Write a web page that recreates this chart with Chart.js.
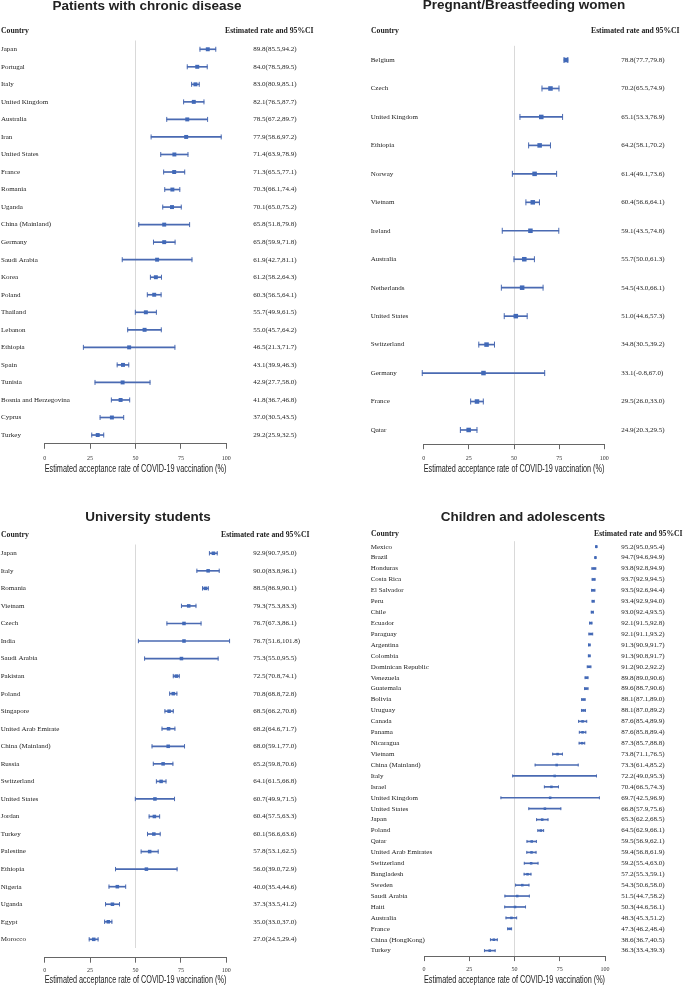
<!DOCTYPE html>
<html>
<head>
<meta charset="utf-8">
<script src="https://cdn.jsdelivr.net/npm/chart.js@4.4.1/dist/chart.umd.min.js"></script>
<style>
  body { margin: 0; background: #fff; }
  #page { position: relative; width: 685px; height: 986px; overflow: hidden; color: #222; }
  canvas { position: absolute; }
  .title { position: absolute; font: bold 13.5px 'Liberation Sans', Arial, sans-serif; line-height: 14px; white-space: nowrap; transform: translateX(-50%); color: #222; }
  .head { position: absolute; font: bold 7.7px 'Liberation Serif', 'Times New Roman', serif; line-height: 10px; white-space: nowrap; color: #222; }
</style>
</head>
<body>
<div id="page">
  <canvas id="c1" width="340" height="480" style="left:0;top:0"></canvas>
  <canvas id="c2" width="345" height="480" style="left:340px;top:0"></canvas>
  <canvas id="c3" width="340" height="496" style="left:0;top:490px"></canvas>
  <canvas id="c4" width="345" height="496" style="left:340px;top:490px"></canvas>

  <div class="title" style="left:147px;top:-1px">Patients with chronic disease</div>
  <div class="title" style="left:524px;top:-2px">Pregnant/Breastfeeding women</div>
  <div class="title" style="left:148px;top:510px">University students</div>
  <div class="title" style="left:523px;top:510px">Children and adolescents</div>

  <div class="head" style="left:1px;top:26px">Country</div>
  <div class="head" style="left:225px;top:26px">Estimated rate and 95%CI</div>
  <div class="head" style="left:371px;top:26px">Country</div>
  <div class="head" style="left:591px;top:26px">Estimated rate and 95%CI</div>
  <div class="head" style="left:1px;top:530px">Country</div>
  <div class="head" style="left:221px;top:530px">Estimated rate and 95%CI</div>
  <div class="head" style="left:371px;top:529px">Country</div>
  <div class="head" style="left:594px;top:529px">Estimated rate and 95%CI</div>
</div>
<script>
// Patients with chronic disease
const chronicCountries = ['Japan', 'Portugal', 'Italy', 'United Kingdom', 'Australia', 'Iran', 'United States', 'France',
  'Romania', 'Uganda', 'China (Mainland)', 'Germany', 'Saudi Arabia', 'Korea', 'Poland', 'Thailand', 'Lebanon',
  'Ethiopia', 'Spain', 'Tunisia', 'Bosnia and Herzegovina', 'Cyprus', 'Turkey'];
const chronicEst = [89.8, 84.0, 83.0, 82.1, 78.5, 77.9, 71.4, 71.3, 70.3, 70.1, 65.8, 65.8, 61.9, 61.2, 60.3, 55.7, 55.0, 46.5, 43.1, 42.9, 41.8, 37.0, 29.2];
const chronicLow = [85.5, 78.5, 80.9, 76.5, 67.2, 58.6, 63.9, 65.5, 66.1, 65.0, 51.8, 59.9, 42.7, 58.2, 56.5, 49.9, 45.7, 21.3, 39.9, 27.7, 36.7, 30.5, 25.9];
const chronicHigh = [94.2, 89.5, 85.1, 87.7, 89.7, 97.2, 78.9, 77.1, 74.4, 75.2, 79.8, 71.8, 81.1, 64.3, 64.1, 61.5, 64.2, 71.7, 46.3, 58.0, 46.8, 43.5, 32.5];

// Pregnant/Breastfeeding women
const pregnantCountries = ['Belgium', 'Czech', 'United Kingdom', 'Ethiopia', 'Norway', 'Vietnam', 'Ireland', 'Australia',
  'Netherlands', 'United States', 'Switzerland', 'Germany', 'France', 'Qatar'];
const pregnantEst = [78.8, 70.2, 65.1, 64.2, 61.4, 60.4, 59.1, 55.7, 54.5, 51.0, 34.8, 33.1, 29.5, 24.9];
const pregnantLow = [77.7, 65.5, 53.3, 58.1, 49.1, 56.6, 43.5, 50.0, 43.0, 44.6, 30.5, -0.8, 26.0, 20.3];
const pregnantHigh = [79.8, 74.9, 76.9, 70.2, 73.6, 64.1, 74.8, 61.3, 66.1, 57.3, 39.2, 67.0, 33.0, 29.5];

// University students
const studentCountries = ['Japan', 'Italy', 'Romania', 'Vietnam', 'Czech', 'India', 'Saudi Arabia', 'Pakistan', 'Poland',
  'Singapore', 'United Arab Emirate', 'China (Mainland)', 'Russia', 'Switzerland', 'United States', 'Jordan', 'Turkey',
  'Palestine', 'Ethiopia', 'Nigeria', 'Uganda', 'Egypt', 'Morocco'];
const studentEst = [92.9, 90.0, 88.5, 79.3, 76.7, 76.7, 75.3, 72.5, 70.8, 68.5, 68.2, 68.0, 65.2, 64.1, 60.7, 60.4, 60.1, 57.8, 56.0, 40.0, 37.3, 35.0, 27.0];
const studentLow = [90.7, 83.8, 86.9, 75.3, 67.3, 51.6, 55.0, 70.8, 68.8, 66.2, 64.6, 59.1, 59.8, 61.5, 49.9, 57.5, 56.6, 53.1, 39.0, 35.4, 33.5, 33.0, 24.5];
const studentHigh = [95.0, 96.1, 90.1, 83.3, 86.1, 101.8, 95.5, 74.1, 72.8, 70.8, 71.7, 77.0, 70.6, 66.8, 71.5, 63.3, 63.6, 62.5, 72.9, 44.6, 41.2, 37.0, 29.4];

// Children and adolescents
const childCountries = ['Mexico', 'Brazil', 'Honduras', 'Costa Rica', 'El Salvador', 'Peru', 'Chile', 'Ecuador', 'Paraguay',
  'Argentina', 'Colombia', 'Dominican Republic', 'Venezuela', 'Guatemala', 'Bolivia', 'Uruguay', 'Canada', 'Panama',
  'Nicaragua', 'Vietnam', 'China (Mainland)', 'Italy', 'Israel', 'United Kingdom', 'United States', 'Japan', 'Poland',
  'Qatar', 'United Arab Emirates', 'Switzerland', 'Bangladesh', 'Sweden', 'Saudi Arabia', 'Haiti', 'Australia', 'France',
  'China (HongKong)', 'Turkey'];
const childEst = [95.2, 94.7, 93.8, 93.7, 93.5, 93.4, 93.0, 92.1, 92.1, 91.3, 91.3, 91.2, 89.8, 89.6, 88.1, 88.1, 87.6, 87.6,
  87.3, 73.8, 73.3, 72.2, 70.4, 69.7, 66.8, 65.3, 64.5, 59.5, 59.4, 59.2, 57.2, 54.3, 51.5, 50.3, 48.3, 47.3, 38.6, 36.3];
const childLow = [95.0, 94.6, 92.8, 92.9, 92.6, 92.9, 92.4, 91.5, 91.1, 90.9, 90.8, 90.2, 89.0, 88.7, 87.1, 87.0, 85.4, 85.8,
  85.7, 71.1, 61.4, 49.0, 66.5, 42.5, 57.9, 62.2, 62.9, 56.9, 56.8, 55.4, 55.3, 50.6, 44.7, 44.6, 45.3, 46.2, 36.7, 33.4];
const childHigh = [95.4, 94.9, 94.9, 94.5, 94.4, 94.0, 93.5, 92.8, 93.2, 91.7, 91.7, 92.2, 90.6, 90.6, 89.0, 89.2, 89.9, 89.4,
  88.8, 76.5, 85.2, 95.3, 74.3, 96.9, 75.6, 68.5, 66.1, 62.1, 61.9, 63.0, 59.1, 58.0, 58.2, 56.1, 51.2, 48.4, 40.5, 39.3];

const xTicks = [0, 25, 50, 75, 100];
const axisTitle = 'Estimated acceptance rate of COVID-19 vaccination (%)';

const serif = "'Liberation Serif', 'Times New Roman', serif";
const sans = "'Liberation Sans', Arial, sans-serif";
const markColor = '#4169b8';
const lineColor = '#4a6ab2';
const axisColor = '#666';
const refColor = '#d9d9d9';

function ciLabel(e, l, h) {
  return e.toFixed(1) + '(' + l.toFixed(1) + ',' + h.toFixed(1) + ')';
}

function forest(id, countries, est, low, high, g) {
  const n = countries.length;
  const rows = countries.map((c, i) => i);
  new Chart(document.getElementById(id), {
    type: 'bar',
    data: {
      datasets: [
        {
          type: 'line', showLine: false, clip: false,
          data: est.map((v, i) => ({ x: v, y: i })),
          pointStyle: 'rect', pointRadius: g.mark, pointBackgroundColor: markColor, pointBorderWidth: 0
        },
        {
          type: 'line', showLine: false, clip: false,
          data: low.map((v, i) => ({ x: v, y: i })).concat(high.map((v, i) => ({ x: v, y: i }))),
          pointStyle: 'line', pointRotation: 90, pointRadius: g.cap,
          pointBorderColor: lineColor, pointBorderWidth: 1
        },
        {
          type: 'bar', clip: false,
          data: low.map((v, i) => ({ x: [v, high[i]], y: i })),
          backgroundColor: lineColor, barThickness: 1, borderWidth: 0
        }
      ]
    },
    options: {
      responsive: false,
      animation: false,
      events: [],
      indexAxis: 'y',
      layout: { padding: { left: 0, top: g.top, right: 0, bottom: g.padB } },
      plugins: { legend: { display: false }, tooltip: { enabled: false } },
      scales: {
        // data axis: only the reference line at 50, sits right under the rows
        x: {
          type: 'linear', min: 0, max: 100, position: 'bottom', weight: 0,
          afterBuildTicks: s => { s.ticks = xTicks.map(v => ({ value: v })); },
          afterFit: s => { s.height = g.gap; s.paddingLeft = 0; s.paddingRight = 0; },
          grid: {
            color: c => (c.tick && c.tick.value === 50) ? refColor : 'rgba(0,0,0,0)',
            drawTicks: false, lineWidth: 1
          },
          border: { display: false },
          ticks: { display: false }
        },
        // visible axis with ticks and title, below the data axis
        x2: {
          type: 'linear', min: 0, max: 100, position: 'bottom', weight: 1,
          afterBuildTicks: s => { s.ticks = xTicks.map(v => ({ value: v })); },
          afterFit: s => { s.height = g.xH; s.paddingLeft = 0; s.paddingRight = 0; },
          grid: { drawOnChartArea: false, color: axisColor, tickColor: axisColor, tickLength: 5, lineWidth: 1 },
          border: { display: true, color: axisColor, width: 1 },
          ticks: { padding: g.tickPad, maxRotation: 0, font: { family: serif, size: 6 }, color: '#333' },
          title: { display: true, text: axisTitle, padding: 0, font: { family: sans, size: 10 }, color: '#222' }
        },
        y: {
          type: 'linear', reverse: true, bounds: 'data', offset: false,
          min: -0.5, max: n - 0.5, position: 'left',
          afterBuildTicks: s => { s.ticks = rows.map(v => ({ value: v })); },
          afterFit: s => { s.width = g.leftW; s.paddingTop = 0; s.paddingBottom = 0; },
          grid: { display: false, offset: false },
          border: { display: false },
          ticks: {
            autoSkip: false, mirror: true, crossAlign: 'near', padding: g.labelX - g.leftW,
            font: { family: serif, size: 7 }, color: '#222',
            callback: v => countries[v]
          }
        },
        y2: {
          type: 'linear', reverse: true, bounds: 'data', offset: false,
          min: -0.5, max: n - 0.5, position: 'right',
          afterBuildTicks: s => { s.ticks = rows.map(v => ({ value: v })); },
          afterFit: s => { s.width = g.rightW; s.paddingTop = 0; s.paddingBottom = 0; },
          grid: { display: false, offset: false },
          border: { display: false },
          ticks: {
            autoSkip: false, crossAlign: 'near', padding: g.valPad,
            font: { family: serif, size: 7 }, color: '#222',
            callback: v => ciLabel(est[v], low[v], high[v])
          }
        }
      }
    }
  });
}

forest('c1', chronicCountries, chronicEst, chronicLow, chronicHigh,
  { labelX: 1, leftW: 44.7, rightW: 113.7, valPad: 19, top: 40.5, gap: 0, xH: 31.2, padB: 5, tickPad: 6, mark: 2.8, cap: 2.5 });
forest('c2', pregnantCountries, pregnantEst, pregnantLow, pregnantHigh,
  { labelX: 30.7, leftW: 83.7, rightW: 80.7, valPad: 9, top: 45.8, gap: 0, xH: 30.8, padB: 5, tickPad: 5.5, mark: 3.2, cap: 3 });
forest('c3', studentCountries, studentEst, studentLow, studentHigh,
  { labelX: 0.7, leftW: 44.7, rightW: 113.7, valPad: 19, top: 54.5, gap: 9.6, xH: 28.3, padB: 0, tickPad: 4.4, mark: 2.5, cap: 2.2 });
forest('c4', childCountries, childEst, childLow, childHigh,
  { labelX: 30.7, leftW: 84, rightW: 80, valPad: 8.3, top: 51.2, gap: 0, xH: 29.9, padB: 0, tickPad: 4.3, mark: 1.8, cap: 1.5 });
</script>
</body>
</html>
